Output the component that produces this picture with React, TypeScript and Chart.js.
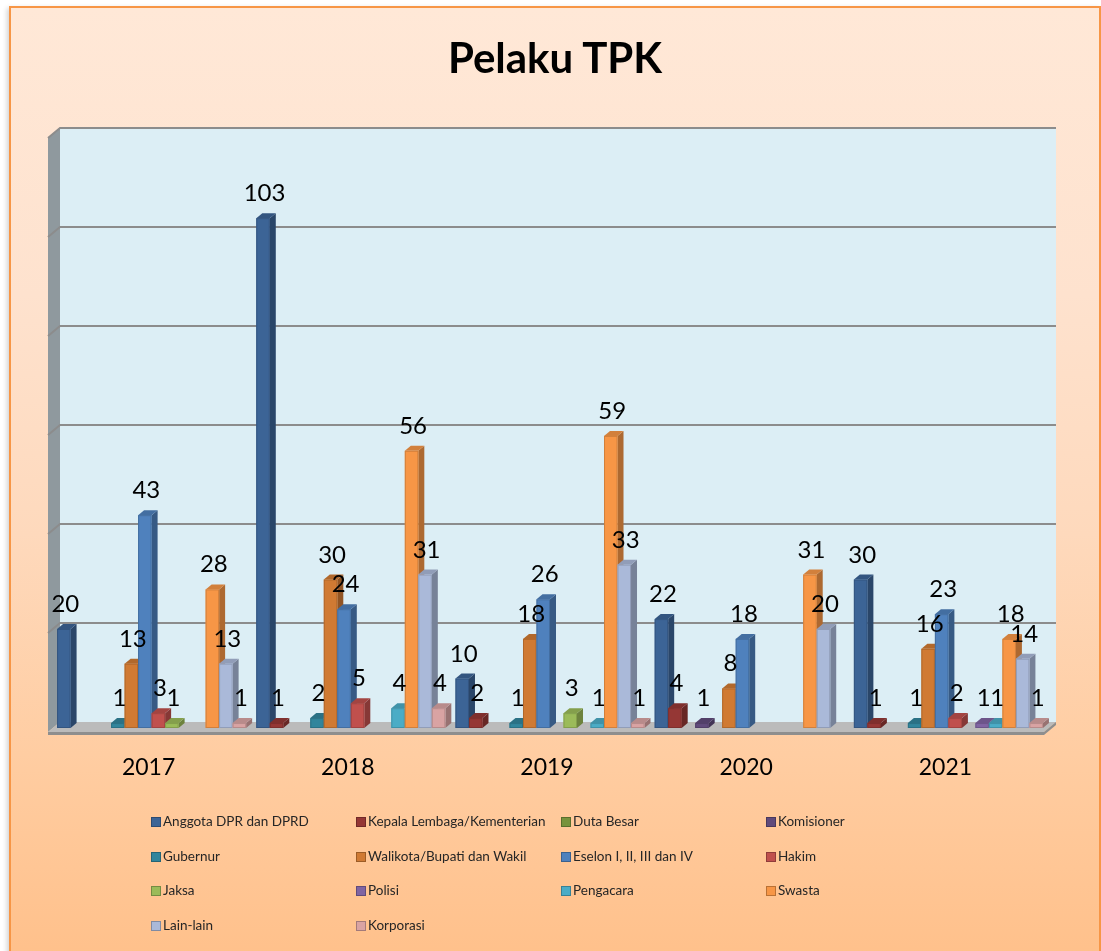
import React, { useEffect, useRef } from "react";
import { Chart, registerables } from "chart.js";

Chart.register(...registerables);

// ---------- DATA ----------
const categories = ["2017", "2018", "2019", "2020", "2021"];

const seriesNames = [
  "Anggota DPR dan DPRD",
  "Kepala Lembaga/Kementerian",
  "Duta Besar",
  "Komisioner",
  "Gubernur",
  "Walikota/Bupati dan Wakil",
  "Eselon I, II, III dan IV",
  "Hakim",
  "Jaksa",
  "Polisi",
  "Pengacara",
  "Swasta",
  "Lain-lain",
  "Korporasi",
];

const anggotaDPR = [20, 103, 10, 22, 30];
const kepalaLembaga = [null, 1, 2, 4, 1];
const dutaBesar = [null, null, null, null, null];
const komisioner = [null, null, null, 1, null];
const gubernur = [1, 2, 1, null, 1];
const walikota = [13, 30, 18, 8, 16];
const eselon = [43, 24, 26, 18, 23];
const hakim = [3, 5, null, null, 2];
const jaksa = [1, null, 3, null, null];
const polisi = [null, null, null, null, 1];
const pengacara = [null, 4, 1, null, 1];
const swasta = [28, 56, 59, 31, 18];
const lainLain = [13, 31, 33, 20, 14];
const korporasi = [1, 4, 1, null, 1];

const seriesValues = [
  anggotaDPR, kepalaLembaga, dutaBesar, komisioner, gubernur, walikota, eselon,
  hakim, jaksa, polisi, pengacara, swasta, lainLain, korporasi,
];

const seriesColors = [
  "#3C6496", "#953735", "#77933C", "#604A7B", "#31859C", "#D07A33", "#4F81BD",
  "#C0504D", "#9BBB59", "#8064A2", "#4BACC6", "#F79646", "#AAB9D9", "#D9A3A3",
];

const yTicks = [0, 20, 40, 60, 80, 100, 120];

// ---------- helpers ----------
function shade(hex: string, f: number): string {
  const n = parseInt(hex.slice(1), 16);
  const r = Math.round(((n >> 16) & 255) * f);
  const g = Math.round(((n >> 8) & 255) * f);
  const b = Math.round((n & 255) * f);
  return `rgb(${Math.min(255, r)},${Math.min(255, g)},${Math.min(255, b)})`;
}

const BAR_DX = 6;
const BAR_DY = -5;
const FRONT = { x: -4, y: 4 };
const BACK = { x: 8, y: -6 };

const threeDPlugin = {
  id: "threeD",
  beforeDatasetsDraw(chart: any) {
    const { ctx, chartArea, scales } = chart;
    const L = chartArea.left;
    const R = chartArea.right;
    const T = chartArea.top;
    const B = chartArea.bottom;
    const ys = scales.y;
    ctx.save();
    // back wall
    ctx.fillStyle = "#DCEEF5";
    ctx.fillRect(L + BACK.x, T + BACK.y, R - L, B - T);
    // left wall
    ctx.beginPath();
    ctx.moveTo(L + FRONT.x, T + FRONT.y);
    ctx.lineTo(L + BACK.x, T + BACK.y);
    ctx.lineTo(L + BACK.x, B + BACK.y);
    ctx.lineTo(L + FRONT.x, B + FRONT.y);
    ctx.closePath();
    ctx.fillStyle = "#8F999E";
    ctx.fill();
    // gridlines
    ctx.strokeStyle = "#8C8C8C";
    ctx.lineWidth = 2;
    for (const v of yTicks) {
      if (v === 0) continue;
      const py = Math.round(ys.getPixelForValue(v));
      ctx.beginPath();
      ctx.moveTo(L + FRONT.x, py + FRONT.y);
      ctx.lineTo(L + BACK.x, py + BACK.y);
      ctx.lineTo(R + BACK.x, py + BACK.y);
      ctx.stroke();
    }
    // floor top surface
    ctx.beginPath();
    ctx.moveTo(L + FRONT.x, B + FRONT.y);
    ctx.lineTo(L + BACK.x, B + BACK.y);
    ctx.lineTo(R + BACK.x, B + BACK.y);
    ctx.lineTo(R + FRONT.x, B + FRONT.y);
    ctx.closePath();
    ctx.fillStyle = "#BBBBBB";
    ctx.fill();
    // floor front edge
    ctx.fillStyle = "#8E8E8E";
    ctx.fillRect(L + FRONT.x, B + FRONT.y, R - L, 3);
    ctx.beginPath();
    ctx.moveTo(R + FRONT.x, B + FRONT.y);
    ctx.lineTo(R + BACK.x, B + BACK.y);
    ctx.lineTo(R + BACK.x, B + BACK.y + 3);
    ctx.lineTo(R + FRONT.x, B + FRONT.y + 3);
    ctx.closePath();
    ctx.fill();
    ctx.restore();
  },
  afterDatasetsDraw(chart: any) {
    const { ctx, scales } = chart;
    const n = categories.length;
    ctx.save();
    for (let i = 0; i < n; i++) {
      for (let d = 0; d < seriesValues.length; d++) {
        const v = seriesValues[d][i];
        if (v === null || v === undefined) continue;
        const el = chart.getDatasetMeta(d).data[i];
        if (!el) continue;
        const p = el.getProps(["x", "y", "base", "width"], true);
        const c = seriesColors[d];
        const x0 = p.x - p.width / 2;
        const x1 = p.x + p.width / 2;
        const top = p.y;
        const bot = p.base;
        // side
        ctx.beginPath();
        ctx.moveTo(x1, top);
        ctx.lineTo(x1 + BAR_DX, top + BAR_DY);
        ctx.lineTo(x1 + BAR_DX, bot + BAR_DY);
        ctx.lineTo(x1, bot);
        ctx.closePath();
        ctx.fillStyle = shade(c, 0.7);
        ctx.fill();
        // top
        ctx.beginPath();
        ctx.moveTo(x0, top);
        ctx.lineTo(x0 + BAR_DX, top + BAR_DY);
        ctx.lineTo(x1 + BAR_DX, top + BAR_DY);
        ctx.lineTo(x1, top);
        ctx.closePath();
        ctx.fillStyle = shade(c, 0.85);
        ctx.fill();
        // front
        ctx.fillStyle = c;
        ctx.fillRect(x0, top, x1 - x0, bot - top);
        ctx.strokeStyle = shade(c, 0.85);
        ctx.lineWidth = 1;
        ctx.strokeRect(x0 + 0.5, top + 0.5, x1 - x0 - 1, Math.max(0, bot - top - 1));
      }
    }
    // data labels
    ctx.fillStyle = "#000000";
    ctx.font = "24px Lato";
    ctx.textAlign = "center";
    ctx.textBaseline = "alphabetic";
    for (let d = 0; d < seriesValues.length; d++) {
      const meta = chart.getDatasetMeta(d);
      for (let i = 0; i < n; i++) {
        const v = seriesValues[d][i];
        if (v === null || v === undefined) continue;
        const p = meta.data[i].getProps(["x", "y"], true);
        ctx.fillText(String(v), p.x + 1.5, p.y - 17);
      }
    }
    // category labels
    ctx.font = "23px Lato";
    const xs = scales.x;
    for (let i = 0; i < n; i++) {
      ctx.fillText(categories[i], xs.getPixelForValue(i) - 3, 775);
    }
    ctx.restore();
  },
};

export default function App() {
  const canvasRef = useRef<HTMLCanvasElement | null>(null);

  useEffect(() => {
    if (!canvasRef.current) return;
    const chart = new Chart(canvasRef.current, {
      type: "bar",
      data: {
        labels: categories,
        datasets: seriesNames.map((name, d) => ({
          label: name,
          data: seriesValues[d],
          backgroundColor: "rgba(0,0,0,0)",
          borderWidth: 0,
          categoryPercentage: 0.949,
          barPercentage: 1,
        })),
      },
      options: {
        responsive: false,
        maintainAspectRatio: false,
        devicePixelRatio: 1,
        animation: false,
        events: [],
        layout: { padding: { left: 52, right: 1101 - 1048, top: 134, bottom: 951 - 728 } },
        plugins: {
          legend: { display: false },
          title: { display: false },
          tooltip: { enabled: false },
        },
        scales: {
          x: { type: "category", display: false, offset: true },
          y: { display: false, min: 0, max: 120, ticks: { stepSize: 20 } },
        },
      },
      plugins: [threeDPlugin],
    });
    return () => chart.destroy();
  }, []);

  const colX = [151, 356, 561, 766];
  const rowTop = [817, 851.5, 886, 920.5];

  return (
    <div
      style={{
        position: "absolute",
        left: 0,
        top: 0,
        width: 1101,
        height: 951,
        overflow: "hidden",
        fontFamily: "Lato, sans-serif",
      }}
    >
      <div
        style={{
          position: "absolute",
          left: 9,
          top: 6,
          width: 1092,
          height: 960,
          boxSizing: "border-box",
          border: "2px solid #F79646",
          background:
            "linear-gradient(to bottom, #FFE8D7 0%, #FEE2CE 30%, #FED9BC 55%, #FFCDA2 78%, #FFC08A 100%)",
          boxShadow: "-2px 2px 5px rgba(0,0,0,0.18)",
        }}
      />
      <canvas
        ref={canvasRef}
        width={1101}
        height={951}
        style={{ position: "absolute", left: 0, top: 0, width: 1101, height: 951 }}
      />
      <div
        style={{
          position: "absolute",
          left: 9,
          width: 1092,
          top: 36,
          textAlign: "center",
          fontWeight: 700,
          fontSize: 42,
          lineHeight: "42px",
          color: "#000",
        }}
      >
        Pelaku TPK
      </div>
      {seriesNames.map((name, d) => {
        const col = d % 4;
        const row = Math.floor(d / 4);
        return (
          <div key={name}>
            <div
              style={{
                position: "absolute",
                left: colX[col],
                top: rowTop[row],
                width: 10,
                height: 10,
                boxSizing: "border-box",
                background: seriesColors[d],
                border: `1px solid ${shade(seriesColors[d], 0.75)}`,
              }}
            />
            <div
              style={{
                position: "absolute",
                left: colX[col] + 12,
                top: rowTop[row] - 2,
                fontSize: 13.5,
                lineHeight: "13.5px",
                color: "#262626",
                whiteSpace: "nowrap",
              }}
            >
              {name}
            </div>
          </div>
        );
      })}
    </div>
  );
}
